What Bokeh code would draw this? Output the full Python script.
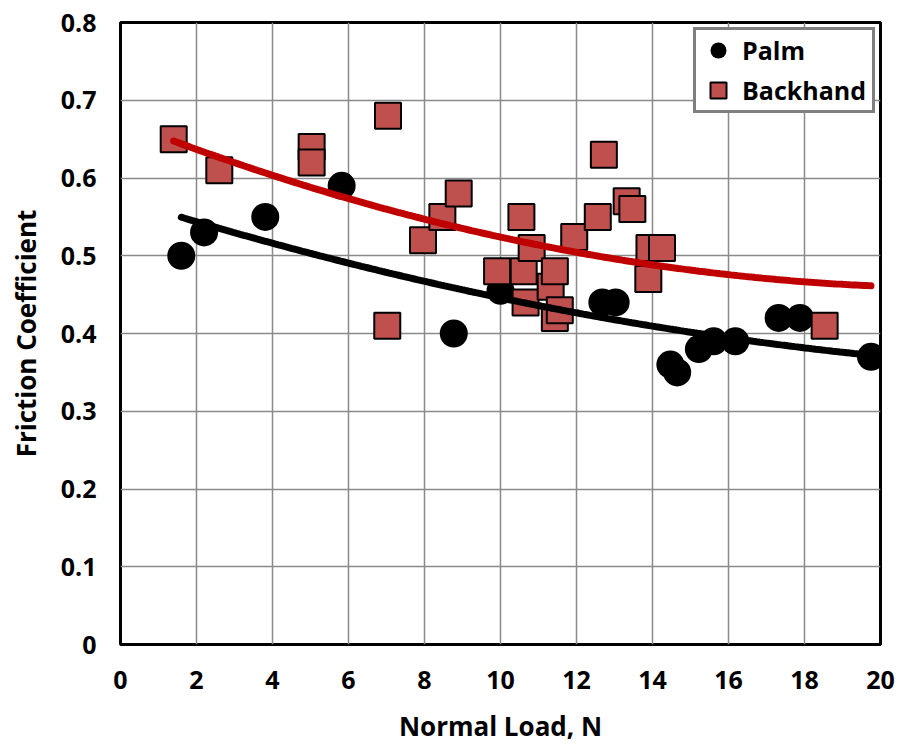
import numpy as np
from bokeh.plotting import figure
from bokeh.models import Range1d, FixedTicker, NumeralTickFormatter, Legend, LegendItem
from bokeh.embed import file_html
from bokeh.resources import INLINE

# ---- data ----
palm_x = [1.6, 2.2, 3.81, 5.82, 8.77, 10.0, 12.68, 13.03, 14.47, 14.65, 15.22, 15.61, 16.18, 17.32, 17.88, 19.75]
palm_y = [0.50, 0.53, 0.55, 0.59, 0.40, 0.455, 0.44, 0.44, 0.36, 0.35, 0.38, 0.39, 0.39, 0.42, 0.42, 0.37]

back_x = [1.40, 2.6, 5.03, 5.03, 7.04, 7.02, 7.96, 8.47, 8.9, 9.91, 10.55, 10.61, 10.66, 10.82, 11.32,
          11.43, 11.43, 11.56, 11.94, 12.56, 12.72, 13.32, 13.47, 13.89, 13.92, 14.25, 18.53]
back_y = [0.65, 0.61, 0.64, 0.62, 0.68, 0.41, 0.52, 0.55, 0.58, 0.48, 0.55, 0.48, 0.44, 0.51, 0.46,
          0.48, 0.42, 0.43, 0.524, 0.55, 0.63, 0.57, 0.56, 0.47, 0.51, 0.51, 0.41]

x_ticks = [0, 2, 4, 6, 8, 10, 12, 14, 16, 18, 20]
y_ticks = [0, 0.1, 0.2, 0.3, 0.4, 0.5, 0.6, 0.7, 0.8]

FONT = "Open Sans"

p = figure(width=902, height=747, output_backend="svg", toolbar_location=None,
           x_range=Range1d(0, 20), y_range=Range1d(0, 0.8),
           min_border_left=120, min_border_right=22, min_border_top=22, min_border_bottom=103)

p.outline_line_color = "black"
p.outline_line_width = 3
p.background_fill_color = "white"
p.border_fill_color = "white"

for ax in (p.xaxis[0], p.yaxis[0]):
    ax.axis_line_color = None
    ax.major_tick_line_color = None
    ax.minor_tick_line_color = None
    ax.major_tick_out = 0
    ax.major_tick_in = 0
    ax.major_label_text_font = FONT
    ax.major_label_text_font_style = "bold"
    ax.major_label_text_font_size = "25px"
    ax.major_label_text_color = "black"
    ax.axis_label_text_font = FONT
    ax.axis_label_text_font_style = "bold"
    ax.axis_label_text_font_size = "26px"
    ax.axis_label_text_color = "black"

p.xaxis.ticker = FixedTicker(ticks=x_ticks)
p.yaxis.ticker = FixedTicker(ticks=y_ticks)
p.yaxis.formatter = NumeralTickFormatter(format="0.[0]")
p.xaxis.axis_label = "Normal Load, N"
p.yaxis.axis_label = "Friction Coefficient"
p.xaxis.major_label_standoff = 26
p.yaxis.major_label_standoff = 24
p.xaxis.axis_label_standoff = 16
p.yaxis.axis_label_standoff = 14

for g in (p.xgrid[0], p.ygrid[0]):
    g.grid_line_color = "#8a8a8a"
    g.grid_line_width = 1.5

r_palm = p.scatter(palm_x, palm_y, marker="circle", size=28, fill_color="black", line_color="black", line_width=0)
r_back = p.scatter(back_x, back_y, marker="square", size=26, fill_color="#C0504D", line_color="black", line_width=2)

# Excel-style 2nd-order polynomial trendlines fitted to the data
x_end = max(max(palm_x), max(back_x))
cp = np.polyfit(palm_x, palm_y, 2)
xs_p = np.linspace(min(palm_x), x_end, 200)
p.line(xs_p, np.polyval(cp, xs_p), line_color="black", line_width=7, line_cap="round")
cb = np.polyfit(back_x, back_y, 2)
xs_b = np.linspace(min(back_x), x_end, 200)
p.line(xs_b, np.polyval(cb, xs_b), line_color="#C00000", line_width=7, line_cap="round")

legend = Legend(items=[LegendItem(label="Palm", renderers=[r_palm]),
                       LegendItem(label="Backhand", renderers=[r_back])],
                location=(573, 531))
legend.border_line_color = "black"
legend.border_line_width = 3
legend.background_fill_color = "white"
legend.background_fill_alpha = 1
legend.label_text_font = FONT
legend.label_text_font_style = "bold"
legend.label_text_font_size = "25px"
legend.label_text_color = "black"
legend.glyph_width = 44
legend.glyph_height = 40
legend.label_height = 40
legend.label_width = 130
legend.label_standoff = 2
legend.spacing = 0
legend.padding = 0
legend.margin = 0
p.add_layout(legend)

open("out.html", "w").write(file_html(p, INLINE))
